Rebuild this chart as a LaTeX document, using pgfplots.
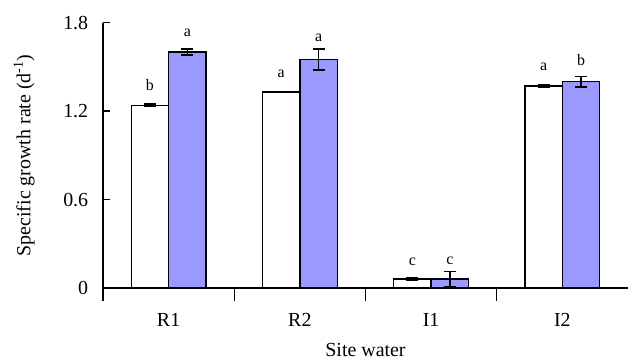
\documentclass[border=0pt]{standalone}
\usepackage{pgfplots}
\pgfplotsset{compat=1.18}
\usepackage{fontspec}
\setmainfont{Liberation Serif}
\definecolor{barblue}{RGB}{153,153,255}
\begin{document}
\fontsize{20}{24}\selectfont
\begin{tikzpicture}
\useasboundingbox (-103bp,-71bp) rectangle (525bp,288bp);
\begin{axis}[
  at={(0,0)}, anchor=south west,
  scale only axis, width=525bp, height=265.3bp,
  xmin=-0.5, xmax=3.5, ymin=0, ymax=1.8,
  axis lines*=left,
  axis line style={-, line width=1.4bp},
  every tick/.style={black, line width=1.4bp},
  xtick={0,1,2,3}, xticklabels={R1,R2,I1,I2},
  major x tick style={draw=none},
  minor xtick={-0.5,0.5,1.5,2.5},
  xtick align=center, minor tick length=13bp,
  ytick={0,0.6,1.2,1.8}, ytick align=inside, major tick length=7bp,
  /pgf/number format/assume math mode=true,
  xticklabel style={anchor=base, yshift=-31bp},
  yticklabel style={anchor=east, xshift=-8bp},
  xlabel={Site water},
  xlabel style={at={(axis description cs:0.5,-0.257)}, anchor=base, inner sep=0pt},
  ylabel={Specific growth rate (d\textsuperscript{-1})},
  ylabel style={at={(axis description cs:-0.15,0.5)}, anchor=center, rotate=0},
  ybar, bar width=0.285,
  error bars/y dir=both, error bars/y explicit,
  error bars/error bar style={black, line width=1.6bp},
  error bars/error mark options={rotate=90, mark size=6bp, line width=1.6bp, black},
]
\addplot[fill=white, draw=black, line width=1.4bp, bar shift=-0.1425]
  coordinates {(0,1.24) +- (0,0.008) (1,1.33) +- (0,0.0) (2,0.06) +- (0,0.008) (3,1.37) +- (0,0.008)};
\addplot[fill=barblue, draw=black, line width=1.4bp, bar shift=0.1425]
  coordinates {(0,1.60) +- (0,0.02) (1,1.55) +- (0,0.07) (2,0.06) +- (0,0.053) (3,1.40) +- (0,0.036)};
\begin{scope}[every node/.style={font=\fontsize{16}{18}\selectfont, inner sep=0pt}]
\node at (axis cs:-0.1425,1.374) {b};
\node at (axis cs:0.1425,1.730) {a};
\node at (axis cs:0.8575,1.452) {a};
\node at (axis cs:1.1425,1.696) {a};
\node at (axis cs:1.8575,0.176) {c};
\node at (axis cs:2.1425,0.187) {c};
\node at (axis cs:2.8575,1.503) {a};
\node at (axis cs:3.1425,1.544) {b};
\end{scope}
\end{axis}
\end{tikzpicture}
\end{document}
